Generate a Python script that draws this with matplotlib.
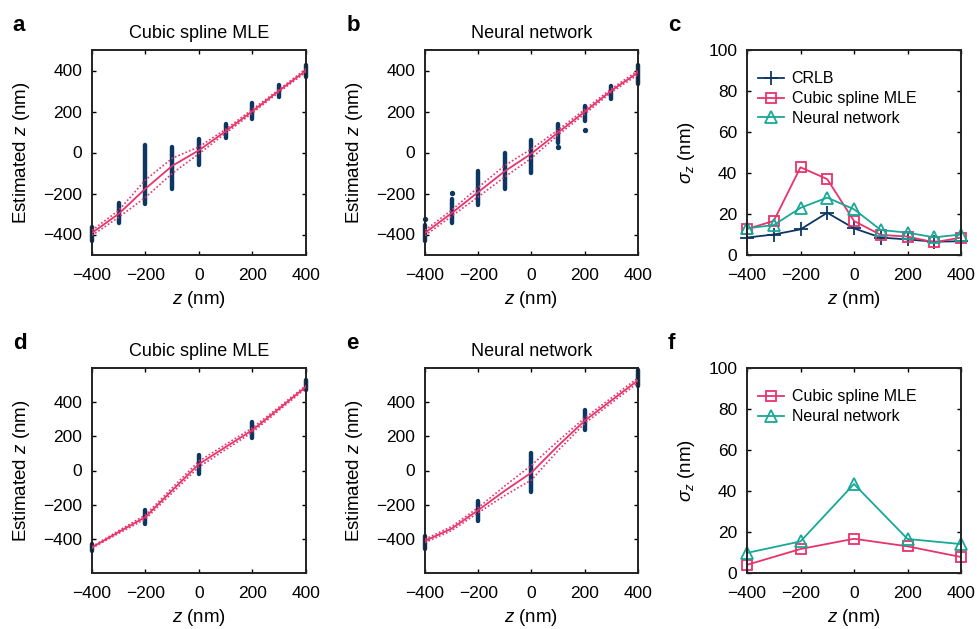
import matplotlib
matplotlib.use("Agg")
import matplotlib.pyplot as plt
import numpy as np

plt.rcParams['font.family'] = ['Liberation Sans', 'DejaVu Sans']
plt.rcParams['mathtext.fontset'] = 'custom'
plt.rcParams['mathtext.rm'] = 'Liberation Sans'
plt.rcParams['mathtext.it'] = 'Liberation Sans:italic'

navy = '#0c3763'
pink = '#e8336b'
teal = '#17a898'

# true z positions
z9 = [-400, -300, -200, -100, 0, 100, 200, 300, 400]
z5 = [-400, -200, 0, 200, 400]

# panel c / f: localisation precision (nm)
crlb_c = [8.5, 10, 12.5, 20.6, 13, 8.5, 7.6, 6.5, 6.7]
spline_c = [12.7, 16.6, 42.8, 37, 16.6, 9.8, 9, 6.2, 8.5]
nn_c = [13, 14.6, 23, 28, 22.3, 12.2, 10.9, 8.6, 10]
spline_f = [4, 11.7, 16.7, 13, 7.8]
nn_f = [9.8, 15.4, 43.4, 16.6, 14.1]

# panel a: cubic spline estimates (cluster extent and mean)
a_low = [-432, -342, -252, -180, -63, 72, 165, 272, 370]
a_high = [-365, -248, 35, 25, 65, 140, 240, 328, 425]
a_mean = [-392, -299, -176, -65, 11, 104, 202, 302, 400]

# panel b: neural network estimates
b_low = [-430, -343, -258, -176, -100, 47, 153, 263, 333]
b_high = [-355, -228, -90, 0, 60, 139, 228, 325, 428]
b_out_x = [-400, -300, 100, 200]
b_out_y = [-325, -196, 28, 109]
b_mean = [-392, -296, -193, -91, -5, 98, 199, 302, 390]

# panel d: cubic spline, second data set
d_low = [-472, -316, -19, 188, 470]
d_high = [-433, -229, 91, 285, 528]
d_mean = [-450, -360, -272, -116, 38, 138, 237, 363, 490]
d_sd = [4, 8, 12, 15, 17, 15, 13, 10, 8]

# panel e: neural network, second data set
e_low = [-458, -297, -128, 240, 493]
e_high = [-384, -180, 101, 353, 590]
e_mean = [-412, -340, -232, -118, -12, 145, 292, 410, 528]
e_sd = [10, 12, 15, 28, 43, 28, 16, 15, 14]

W, H = 978, 629
fig = plt.figure(figsize=(W / 100, H / 100), dpi=100)


def make_ax(left, top, w=214, h=205):
    return fig.add_axes([left / W, (H - top - h) / H, w / W, h / H])


def style(ax):
    ax.tick_params(direction='in', length=3, width=1, top=True, right=True,
                   labelsize=12.5, pad=7, colors='black')
    ax.tick_params(axis='x', pad=9)
    for s in ax.spines.values():
        s.set_linewidth(1.4)
        s.set_color('#222222')


def labels(ax, ylab, ypos):
    ax.set_xlabel('$z$ (nm)', fontsize=13.5, va='center')
    ax.set_ylabel(ylab, fontsize=13.5, va='center')
    ax.xaxis.set_label_coords(0.5, -0.215)
    ax.yaxis.set_label_coords(ypos, 0.5)


def letter(ax, s):
    ax.text(-0.37, 1.12, s, transform=ax.transAxes, fontsize=16,
            fontweight='bold', va='center', ha='left')


def scatter_panel(ax, x, low, high, mean, sd, xm, ylim, title, let):
    ax.vlines(x, low, high, colors=navy, linewidth=3.2, capstyle='round',
              zorder=2, clip_on=False)
    mean = np.array(mean)
    sd = np.array(sd)
    ax.plot(xm, mean, color=pink, lw=1.3, zorder=3)
    ax.plot(xm, mean + sd, color=pink, lw=1.2, ls=(0, (1, 1.3)), zorder=3)
    ax.plot(xm, mean - sd, color=pink, lw=1.2, ls=(0, (1, 1.3)), zorder=3)
    ax.set_xlim(-400, 400)
    ax.set_ylim(*ylim)
    ax.set_xticks([-400, -200, 0, 200, 400])
    ax.set_yticks([-400, -200, 0, 200, 400])
    ax.set_title(title, fontsize=13, pad=9)
    labels(ax, 'Estimated $z$ (nm)', -0.33)
    style(ax)
    letter(ax, let)


def sigma_panel(ax, x, series, let):
    for y, lab, c, m, ms in series:
        ax.plot(x, y, color=c, lw=1.3, marker=m, ms=ms, mfc='none', mew=1.3,
                label=lab, clip_on=False)
    ax.set_xlim(-400, 400)
    ax.set_ylim(0, 100)
    ax.set_xticks([-400, -200, 0, 200, 400])
    ax.set_yticks([0, 20, 40, 60, 80, 100])
    labels(ax, r'$\sigma_z$ (nm)', -0.285)
    style(ax)
    ax.legend(loc='upper left', bbox_to_anchor=(0.0, 0.95), frameon=False,
              fontsize=11.5, handlelength=1.6, handletextpad=0.5,
              labelspacing=0.3, borderaxespad=0.3)
    letter(ax, let)


ax_a = make_ax(92, 50)
scatter_panel(ax_a, z9, a_low, a_high, a_mean, spline_c, z9, (-500, 500),
              'Cubic spline MLE', 'a')

ax_b = make_ax(425, 50, w=213)
scatter_panel(ax_b, z9, b_low, b_high, b_mean, nn_c, z9, (-500, 500),
              'Neural network', 'b')
ax_b.scatter(b_out_x, b_out_y, s=8, color=navy, zorder=2, clip_on=False)

ax_c = make_ax(747, 50)
sigma_panel(ax_c, z9, [(crlb_c, 'CRLB', navy, '+', 10),
                       (spline_c, 'Cubic spline MLE', pink, 's', 7),
                       (nn_c, 'Neural network', teal, '^', 9)], 'c')

ax_d = make_ax(92, 368)
scatter_panel(ax_d, z5, d_low, d_high, d_mean, d_sd, z9, (-600, 600),
              'Cubic spline MLE', 'd')

ax_e = make_ax(425, 368, w=213)
scatter_panel(ax_e, z5, e_low, e_high, e_mean, e_sd, z9, (-600, 600),
              'Neural network', 'e')

ax_f = make_ax(747, 368)
sigma_panel(ax_f, z5, [(spline_f, 'Cubic spline MLE', pink, 's', 7),
                       (nn_f, 'Neural network', teal, '^', 9)], 'f')

fig.savefig('out.png', dpi=100)
